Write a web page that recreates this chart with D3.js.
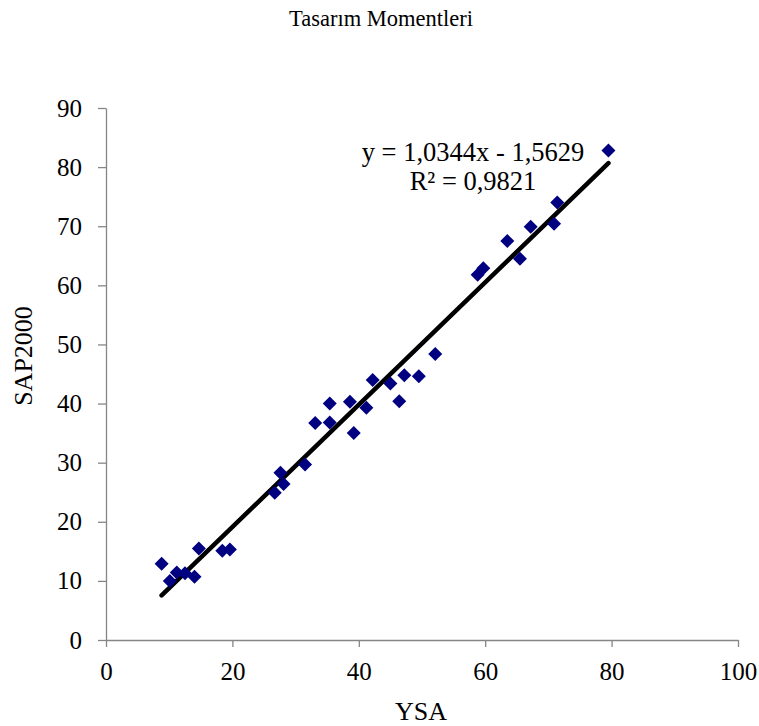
<!DOCTYPE html>
<html>
<head>
<meta charset="utf-8">
<script src="https://cdn.jsdelivr.net/npm/d3@7"></script>
<style>
  body { margin: 0; background: #fff; }
  text { font-family: "Liberation Serif", "Times New Roman", serif; fill: #000; }
  .axis path, .axis line { stroke: #868686; stroke-width: 1.3; }
</style>
</head>
<body>
<div id="chart"></div>
<script>
// YSA (x) vs SAP2000 (y)
var ysa = [8.8, 10.1, 11.2, 12.5, 14.0, 14.7, 18.4, 19.6,
           26.7, 28.1, 27.6, 31.5, 33.1, 35.4, 35.4, 39.2, 38.6, 41.2,
           42.2, 45.0, 46.4, 47.2, 49.5, 52.1,
           58.8, 59.7, 63.5, 65.5, 67.2, 70.9, 71.4, 79.5];
var sap = [12.9, 10.0, 11.4, 11.3, 10.7, 15.5, 15.1, 15.3,
           24.9, 26.4, 28.3, 29.7, 36.7, 36.8, 40.0, 35.0, 40.3, 39.3,
           44.0, 43.4, 40.4, 44.8, 44.6, 48.4,
           61.8, 62.9, 67.5, 64.5, 69.9, 70.4, 74.0, 82.8];

var xTicks = [0, 20, 40, 60, 80, 100];
var yTicks = [0, 10, 20, 30, 40, 50, 60, 70, 80, 90];

var slope = 1.0344, intercept = -1.5629;
var eqText = "y = 1,0344x - 1,5629";
var r2Text = "R² = 0,9821";

var width = 759, height = 726;
var margin = {top: 108, right: 21, bottom: 86, left: 106};
var w = width - margin.left - margin.right,
    h = height - margin.top - margin.bottom;

var svg = d3.select("#chart").append("svg")
    .attr("width", width)
    .attr("height", height);

var g = svg.append("g")
    .attr("transform", "translate(" + margin.left + "," + margin.top + ")");

var x = d3.scaleLinear().domain([0, 100]).range([0, w]);
var y = d3.scaleLinear().domain([0, 90]).range([h, 0]);

// axes
g.append("g")
    .attr("class", "axis")
    .attr("transform", "translate(0," + h + ")")
    .call(d3.axisBottom(x).tickValues(xTicks).tickSize(7).tickSizeOuter(0).tickPadding(15))
    .selectAll("text").style("font-size", "25px");

g.append("g")
    .attr("class", "axis")
    .call(d3.axisLeft(y).tickValues(yTicks).tickSize(8).tickSizeOuter(0).tickPadding(16))
    .selectAll("text").style("font-size", "25px");

// trendline
var data = ysa.map(function(d, i) { return {x: d, y: sap[i]}; });
var ext = d3.extent(ysa);
g.append("line")
    .attr("x1", x(ext[0])).attr("y1", y(slope * ext[0] + intercept))
    .attr("x2", x(ext[1])).attr("y2", y(slope * ext[1] + intercept))
    .attr("stroke", "#000")
    .attr("stroke-width", 4.5)
    .attr("stroke-linecap", "round");

// diamonds
var sym = d3.symbol().type(d3.symbolSquare).size(98);
g.selectAll(".pt")
    .data(data)
    .enter().append("path")
    .attr("class", "pt")
    .attr("d", sym)
    .attr("transform", function(d) { return "translate(" + x(d.x) + "," + y(d.y) + ") rotate(45)"; })
    .attr("fill", "#000080");

// equation
svg.append("text")
    .attr("x", 473).attr("y", 161)
    .attr("text-anchor", "middle")
    .style("font-size", "26.5px")
    .text(eqText);
svg.append("text")
    .attr("x", 473).attr("y", 190)
    .attr("text-anchor", "middle")
    .style("font-size", "26.5px")
    .text(r2Text);

// titles
svg.append("text")
    .attr("x", 381).attr("y", 26)
    .attr("text-anchor", "middle")
    .style("font-size", "22.5px")
    .text("Tasarım Momentleri");

svg.append("text")
    .attr("x", 421).attr("y", 720)
    .attr("text-anchor", "middle")
    .style("font-size", "26px")
    .text("YSA");

svg.append("text")
    .attr("transform", "translate(32,356) rotate(-90)")
    .attr("text-anchor", "middle")
    .style("font-size", "26px")
    .text("SAP2000");
</script>
</body>
</html>
